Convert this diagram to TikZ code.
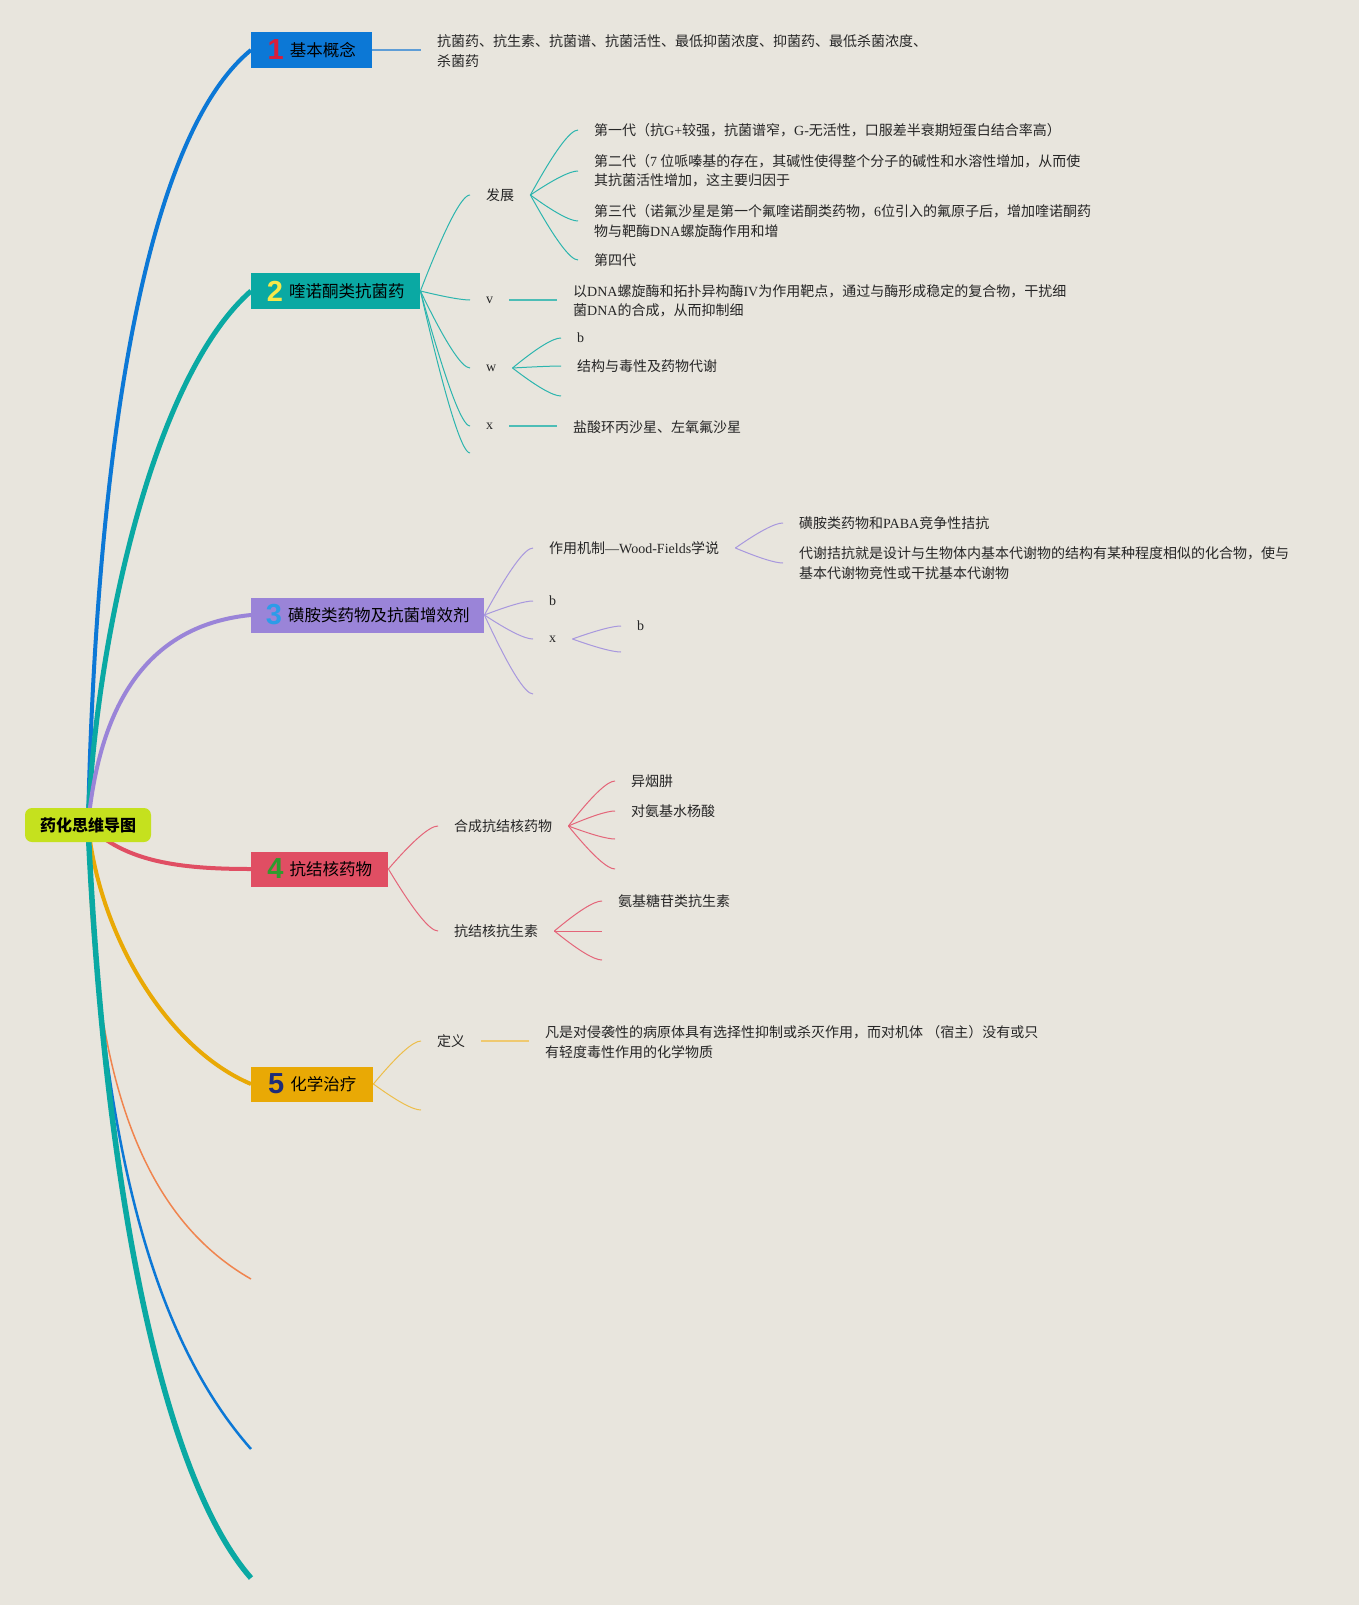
\documentclass[tikz,border=0pt]{standalone}
\usepackage{fontspec}
\setmainfont{Noto Sans CJK SC}
\newfontfamily\latf{Liberation Serif}
\newfontfamily\digf{Liberation Sans}
\usetikzlibrary{calc}
\definecolor{bgc}{HTML}{E8E5DD}
\definecolor{txt}{HTML}{262626}
\definecolor{cblue}{HTML}{0C78D6}
\definecolor{cteal}{HTML}{0AA9A3}
\definecolor{cpurp}{HTML}{9A84D8}
\definecolor{cred}{HTML}{E04E63}
\definecolor{camb}{HTML}{E9A905}
\definecolor{clime}{HTML}{C5E11E}
\definecolor{corange}{HTML}{F0844E}
\definecolor{steal}{HTML}{2CB5AE}
\definecolor{spurp}{HTML}{A898DE}
\definecolor{sred}{HTML}{E46579}
\definecolor{samb}{HTML}{EDBE4A}
\definecolor{hblue}{HTML}{5E9DD6}
\definecolor{hteal}{HTML}{4DBDB6}
\definecolor{hamb}{HTML}{EFC970}
\definecolor{nred}{HTML}{D81E3A}
\definecolor{nyel}{HTML}{F7E84A}
\definecolor{nblue}{HTML}{2D9CE8}
\definecolor{ngreen}{HTML}{2E9B2E}
\definecolor{nnavy}{HTML}{1E2C78}
\newcommand{\vc}[1]{\ensuremath{\vcenter{\hbox{#1}}}}
\newcommand{\dg}[2]{\vc{\digf\bfseries\fontsize{29}{29}\selectfont\color{#1}#2}}
\newcommand{\lt}[1]{{\latf #1}}
% quadratic-like branch: control point at 3/4 of the way, at the child's height
\newcommand{\br}[3][]{\draw[#1] let \p1=(#2), \p2=(#3) in (\p1) .. controls ({\x1+0.5*(\x2-\x1)},{\y1+0.6667*(\y2-\y1)}) and ({\x2-0.1667*(\x2-\x1)},\y2) .. (\p2);}
\pgfdeclarelayer{back}
\pgfdeclarelayer{lines}
\pgfsetlayers{back,lines,main}
\tikzset{
  box/.style={minimum height=36pt, inner xsep=0pt, inner ysep=0pt, anchor=west, text=black, font=\fontsize{16.5}{16.5}\selectfont},
  rootbox/.style={minimum width=126pt, minimum height=34pt, inner sep=0pt, rounded corners=7pt, fill=clime, text=black, font=\fontsize{16}{16}\selectfont\bfseries},
  leaf/.style={anchor=west, inner xsep=16pt, inner ysep=2pt, align=left, text=txt, font=\fontsize{14}{19.5}\selectfont},
  mainline/.style={line width=4.5pt},
  subline/.style={line width=1pt},
  hline/.style={line width=2pt},
}
\begin{document}
\begin{tikzpicture}[x=1pt,y=-1pt]
\begin{pgfonlayer}{back}
\fill[bgc] (0,0) rectangle (1359,1605);
\end{pgfonlayer}
\useasboundingbox (0,0) rectangle (1359,1605);

% root and main boxes
\node[rootbox] (root) at (88,825) {药化思维导图};
\node[box, fill=cblue, minimum width=121pt] (b1) at (251,50) {\dg{nred}{1}\hspace{6pt}\vc{基本概念}};
\node[box, fill=cteal, minimum width=169pt] (b2) at (251,291) {\dg{nyel}{2}\hspace{6pt}\vc{喹诺酮类抗菌药}};
\node[box, fill=cpurp, minimum width=233pt, minimum height=35pt] (b3) at (251,615) {\dg{nblue}{3}\hspace{6pt}\vc{磺胺类药物及抗菌增效剂}};
\node[box, fill=cred, minimum width=137pt, minimum height=35pt] (b4) at (251,869) {\dg{ngreen}{4}\hspace{6pt}\vc{抗结核药物}};
\node[box, fill=camb, minimum width=122pt, minimum height=35pt] (b5) at (251,1084) {\dg{nnavy}{5}\hspace{6pt}\vc{化学治疗}};
\coordinate (f1) at (251,1279);
\coordinate (f2) at (251,1449);
\coordinate (f3) at (251,1578);

% section 1
\node[leaf] (t1) at (421,51) {抗菌药、抗生素、抗菌谱、抗菌活性、最低抑菌浓度、抑菌药、最低杀菌浓度、\\杀菌药};

% section 2
\node[leaf] (a1) at (470,195) {发展};
\node[leaf] (a11) at (578,130) {第一代（抗\lt{G+}较强，抗菌谱窄，\lt{G-}无活性，口服差半衰期短蛋白结合率高）};
\node[leaf] (a12) at (578,171) {第二代（\lt{7} 位哌嗪基的存在，其碱性使得整个分子的碱性和水溶性增加，从而使\\其抗菌活性增加，这主要归因于};
\node[leaf] (a13) at (578,221) {第三代（诺氟沙星是第一个氟喹诺酮类药物，\lt{6}位引入的氟原子后，增加喹诺酮药\\物与靶酶\lt{DNA}螺旋酶作用和增};
\node[leaf] (a14) at (578,260) {第四代};
\node[leaf] (av) at (470,300) {\lt{v}};
\node[leaf] (avt) at (557,301) {以\lt{DNA}螺旋酶和拓扑异构酶\lt{IV}为作用靶点，通过与酶形成稳定的复合物，干扰细\\菌\lt{DNA}的合成，从而抑制细};
\node[leaf] (aw) at (470,368) {\lt{w}};
\node[leaf] (aw1) at (561,338) {\lt{b}};
\node[leaf] (aw2) at (561,366) {结构与毒性及药物代谢};
\coordinate (aw3) at (561,396);
\node[leaf] (ax) at (470,426) {\lt{x}};
\node[leaf] (axt) at (557,427) {盐酸环丙沙星、左氧氟沙星};
\coordinate (ae) at (470,453);

% section 3
\node[leaf] (c1) at (533,548) {作用机制\lt{—Wood-Fields}学说};
\node[leaf] (c11) at (783,523) {磺胺类药物和\lt{PABA}竞争性拮抗};
\node[leaf] (c12) at (783,563) {代谢拮抗就是设计与生物体内基本代谢物的结构有某种程度相似的化合物，使与\\基本代谢物竞性或干扰基本代谢物};
\node[leaf] (c2) at (533,601) {\lt{b}};
\node[leaf] (c3) at (533,639) {\lt{x}};
\node[leaf] (c31) at (621,626) {\lt{b}};
\coordinate (c32) at (621,652);
\coordinate (c4) at (533,694);

% section 4
\node[leaf] (d1) at (438,826) {合成抗结核药物};
\node[leaf] (d11) at (615,781) {异烟肼};
\node[leaf] (d12) at (615,811) {对氨基水杨酸};
\coordinate (d13) at (615,839);
\coordinate (d14) at (615,869);
\node[leaf] (d2) at (438,931) {抗结核抗生素};
\node[leaf] (d21) at (602,901) {氨基糖苷类抗生素};
\coordinate (d22) at (602,931);
\coordinate (d23) at (602,960);

% section 5
\node[leaf] (e1) at (421,1041) {定义};
\node[leaf] (e1t) at (529,1042) {凡是对侵袭性的病原体具有选择性抑制或杀灭作用，而对机体 （宿主）没有或只\\有轻度毒性作用的化学物质};
\coordinate (e2) at (421,1110);

\begin{pgfonlayer}{lines}
% main branches
\draw[mainline, cblue, line width=4pt] (root.center) .. controls (95,500) and (135,145) .. (b1.west);
\draw[mainline, cteal, line width=5pt] (root.center) .. controls (95,650) and (150,380) .. (b2.west);
\draw[mainline, cpurp, line width=4pt] (root.center) .. controls (100,700) and (150,625) .. (b3.west);
\draw[mainline, cred, line width=4pt] (root.center) .. controls (125,862) and (180,869) .. (b4.west);
\draw[mainline, camb, line width=4pt] (root.center) .. controls (100,940) and (170,1050) .. (b5.west);
\draw[corange, line width=1.5pt] (root.center) .. controls (90,1050) and (130,1210) .. (f1);
\draw[cblue, line width=2.5pt] (root.center) .. controls (100,1150) and (155,1340) .. (f2);
\draw[cteal, line width=5.5pt] (root.center) .. controls (105,1200) and (165,1480) .. (f3);

% section 1
\draw[hline, hblue] (b1.east) -- (b1.east -| t1.west);

% section 2
\br[subline, steal]{b2.east}{a1.west}
\br[subline, steal]{b2.east}{av.west}
\br[subline, steal]{b2.east}{aw.west}
\br[subline, steal]{b2.east}{ax.west}
\br[subline, steal]{b2.east}{ae}
\br[subline, steal]{a1.east}{a11.west}
\br[subline, steal]{a1.east}{a12.west}
\br[subline, steal]{a1.east}{a13.west}
\br[subline, steal]{a1.east}{a14.west}
\draw[hline, hteal] (av.east) -- (av.east -| avt.west);
\br[subline, steal]{aw.east}{aw1.west}
\br[subline, steal]{aw.east}{aw2.west}
\br[subline, steal]{aw.east}{aw3}
\draw[hline, hteal] (ax.east) -- (ax.east -| axt.west);

% section 3
\br[subline, spurp]{b3.east}{c1.west}
\br[subline, spurp]{b3.east}{c2.west}
\br[subline, spurp]{b3.east}{c3.west}
\br[subline, spurp]{b3.east}{c4}
\br[subline, spurp]{c1.east}{c11.west}
\br[subline, spurp]{c1.east}{c12.west}
\br[subline, spurp]{c3.east}{c31.west}
\br[subline, spurp]{c3.east}{c32}

% section 4
\br[subline, sred]{b4.east}{d1.west}
\br[subline, sred]{b4.east}{d2.west}
\br[subline, sred]{d1.east}{d11.west}
\br[subline, sred]{d1.east}{d12.west}
\br[subline, sred]{d1.east}{d13}
\br[subline, sred]{d1.east}{d14}
\br[subline, sred]{d2.east}{d21.west}
\br[subline, sred]{d2.east}{d22}
\br[subline, sred]{d2.east}{d23}

% section 5
\br[subline, samb]{b5.east}{e1.west}
\br[subline, samb]{b5.east}{e2}
\draw[hline, hamb] (e1.east) -- (e1.east -| e1t.west);
\end{pgfonlayer}
\end{tikzpicture}
\end{document}
